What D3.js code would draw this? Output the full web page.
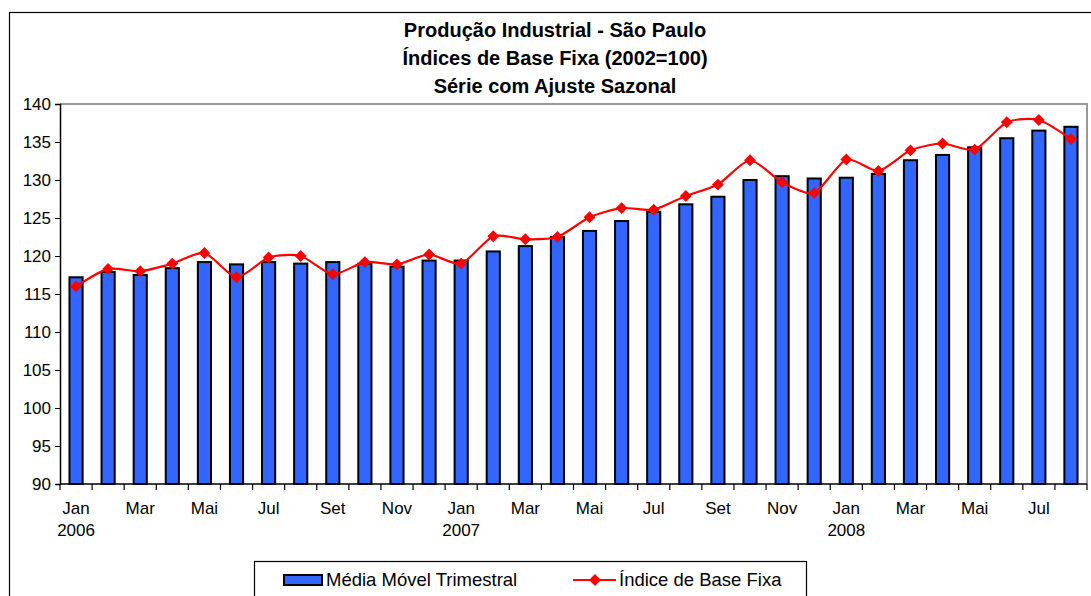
<!DOCTYPE html>
<html>
<head>
<meta charset="utf-8">
<script src="https://cdn.jsdelivr.net/npm/d3@7"></script>
<style>
  body { margin: 0; background: #fff; }
  svg { display: block; font-family: "Liberation Sans", Arial, sans-serif; }
</style>
</head>
<body>
<svg id="chart" width="1091" height="596"></svg>
<script>
// months Jan 2006 .. Aug 2008
const months = ['Jan', 'Fev', 'Mar', 'Abr', 'Mai', 'Jun', 'Jul', 'Ago', 'Set', 'Out', 'Nov', 'Dez',
                'Jan', 'Fev', 'Mar', 'Abr', 'Mai', 'Jun', 'Jul', 'Ago', 'Set', 'Out', 'Nov', 'Dez',
                'Jan', 'Fev', 'Mar', 'Abr', 'Mai', 'Jun', 'Jul', 'Ago'];
const years = ['2006', '2007', '2008'];

// Média Móvel Trimestral (bars)
const mediaMovel = [117.2, 117.9, 117.5, 118.4, 119.2, 118.9, 119.2, 119.0, 119.2, 119.0, 118.6, 119.4,
                    119.4, 120.6, 121.3, 122.5, 123.3, 124.6, 125.8, 126.8, 127.8, 130.0, 130.5, 130.2,
                    130.3, 130.8, 132.6, 133.3, 134.3, 135.5, 136.5, 137.0];

// Índice de Base Fixa (line)
const indiceBase = [116.0, 118.3, 118.0, 119.0, 120.4, 117.2, 119.8, 120.0, 117.6, 119.2, 118.9, 120.2,
                    119.0, 122.6, 122.2, 122.5, 125.1, 126.3, 126.1, 127.9, 129.4, 132.6, 129.7, 128.3,
                    132.7, 131.2, 133.9, 134.8, 134.0, 137.6, 137.9, 135.4];

const yTicks = [90, 95, 100, 105, 110, 115, 120, 125, 130, 135, 140];

const titleLines = ['Produção Industrial - São Paulo', 'Índices de Base Fixa (2002=100)', 'Série com Ajuste Sazonal'];

const svg = d3.select('#chart');

// outer chart border
svg.append('rect')
    .attr('x', 9.5).attr('y', 12.5)
    .attr('width', 1100).attr('height', 600)
    .attr('fill', 'none').attr('stroke', '#000').attr('stroke-width', 1.2);

const plotLeft = 60, plotRight = 1087, plotTop = 104, plotBottom = 484;

const idx = d3.range(months.length);
const x = d3.scaleBand().domain(idx).range([plotLeft, plotRight]).paddingInner(0.59).paddingOuter(0.295);
const xb = d3.scaleBand().domain(idx).range([plotLeft, plotRight]);
const y = d3.scaleLinear().domain([90, 140]).range([plotBottom, plotTop]);

// title
svg.append('g').selectAll('text')
    .data(titleLines)
    .enter().append('text')
    .attr('x', 555).attr('y', (d, i) => 37 + i * 28)
    .attr('text-anchor', 'middle')
    .attr('font-size', 20).attr('font-weight', 'bold')
    .text(d => d);

// plot frame (top + right in gray)
svg.append('path')
    .attr('d', `M${plotLeft},${plotTop}H${plotRight}V${plotBottom}`)
    .attr('fill', 'none').attr('stroke', '#999').attr('stroke-width', 2);

// bars
svg.append('g').selectAll('rect')
    .data(mediaMovel)
    .enter().append('rect')
    .attr('x', (d, i) => x(i))
    .attr('y', d => y(d))
    .attr('width', x.bandwidth())
    .attr('height', d => plotBottom - y(d))
    .attr('fill', '#3366FF')
    .attr('stroke', '#000').attr('stroke-width', 2);

// y axis
const yAxis = d3.axisLeft(y).tickValues(yTicks).tickSize(5).tickPadding(4);
const gy = svg.append('g').attr('transform', `translate(${plotLeft},0)`).call(yAxis);
gy.select('.domain').attr('stroke-width', 1.5);
gy.selectAll('text').attr('font-size', 17).attr('font-family', '"Liberation Sans", Arial, sans-serif').attr('fill', '#000');

// x axis: ticks at band boundaries
const gx = svg.append('g');
gx.append('line')
    .attr('x1', plotLeft).attr('x2', plotRight).attr('y1', plotBottom).attr('y2', plotBottom)
    .attr('stroke', '#000').attr('stroke-width', 1.5);
gx.selectAll('line.tick')
    .data(d3.range(months.length + 1))
    .enter().append('line')
    .attr('class', 'tick')
    .attr('x1', i => plotLeft + i * xb.bandwidth())
    .attr('x2', i => plotLeft + i * xb.bandwidth())
    .attr('y1', plotBottom).attr('y2', plotBottom + 6)
    .attr('stroke', '#000').attr('stroke-width', 1.2);
gx.selectAll('text.month')
    .data(idx.filter(i => i % 2 === 0))
    .enter().append('text')
    .attr('class', 'month')
    .attr('x', i => xb(i) + xb.bandwidth() / 2)
    .attr('y', 514)
    .attr('text-anchor', 'middle')
    .attr('font-size', 17)
    .text(i => months[i]);
gx.selectAll('text.year')
    .data(years)
    .enter().append('text')
    .attr('class', 'year')
    .attr('x', (d, k) => xb(k * 12) + xb.bandwidth() / 2)
    .attr('y', 536)
    .attr('text-anchor', 'middle')
    .attr('font-size', 17)
    .text(d => d);

// line
const line = d3.line()
    .x((d, i) => xb(i) + xb.bandwidth() / 2)
    .y(d => y(d))
    .curve(d3.curveCardinal.tension(0.3));
svg.append('path')
    .datum(indiceBase)
    .attr('d', line)
    .attr('fill', 'none').attr('stroke', '#FF0000').attr('stroke-width', 2.2);

const diamond = d3.symbol().type(d3.symbolSquare).size(70);
svg.append('g').selectAll('path')
    .data(indiceBase)
    .enter().append('path')
    .attr('d', diamond)
    .attr('transform', (d, i) => `translate(${xb(i) + xb.bandwidth() / 2},${y(d)}) rotate(45)`)
    .attr('fill', '#FF0000');

// legend
const lg = svg.append('g');
lg.append('rect')
    .attr('x', 254.5).attr('y', 561.5).attr('width', 552).attr('height', 50)
    .attr('fill', '#fff').attr('stroke', '#000').attr('stroke-width', 1.2);
lg.append('rect')
    .attr('x', 284).attr('y', 575).attr('width', 38).attr('height', 10)
    .attr('fill', '#3366FF').attr('stroke', '#000').attr('stroke-width', 2);
lg.append('text')
    .attr('x', 326).attr('y', 586).attr('font-size', 18.5)
    .text('Média Móvel Trimestral');
lg.append('line')
    .attr('x1', 573).attr('x2', 616).attr('y1', 580).attr('y2', 580)
    .attr('stroke', '#FF0000').attr('stroke-width', 2.2);
lg.append('path')
    .attr('d', diamond)
    .attr('transform', 'translate(595,580) rotate(45)')
    .attr('fill', '#FF0000');
lg.append('text')
    .attr('x', 619).attr('y', 586).attr('font-size', 18.5)
    .text('Índice de Base Fixa');
</script>
</body>
</html>
